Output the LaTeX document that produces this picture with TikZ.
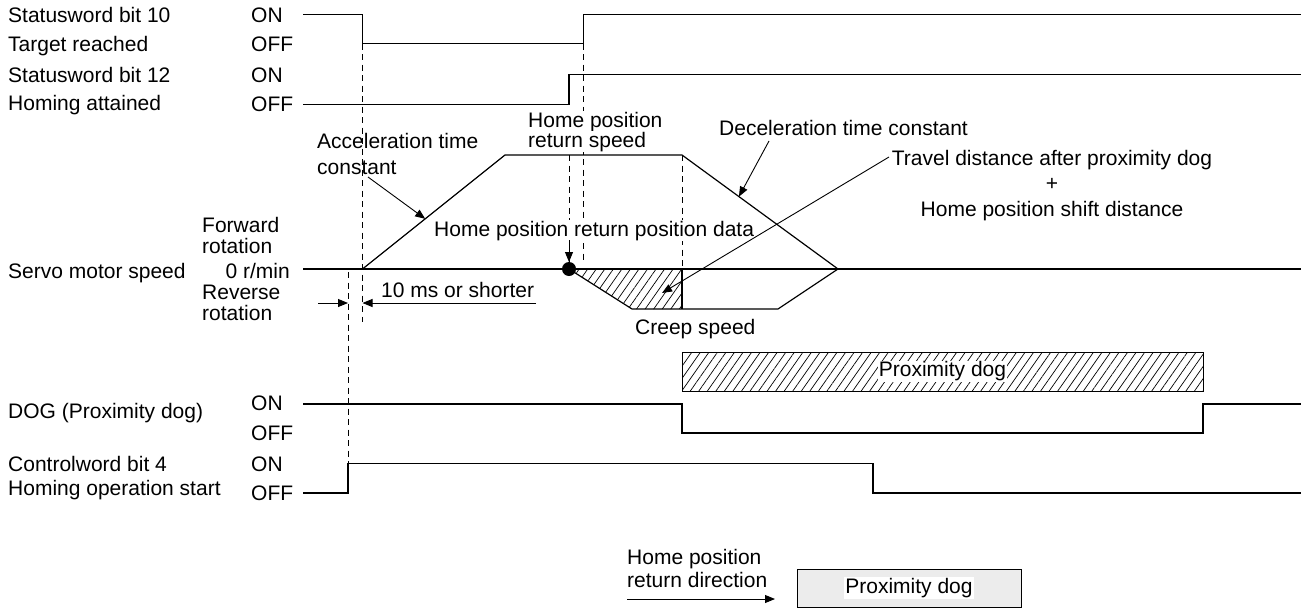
\documentclass[tikz,border=0pt]{standalone}
\usepackage{fontspec}
\setmainfont{Liberation Sans}
\usetikzlibrary{calc, positioning}
\usetikzlibrary{arrows.meta}
\usetikzlibrary{patterns.meta}

\tikzset{
  wave/.style={line width=1.2pt},
  guide/.style={line width=0.9pt, dash pattern=on 6pt off 4.5pt},
  txt/.style={font=\fontsize{21}{25}\selectfont, inner sep=0pt, anchor=base west},
  blank/.style={fill=white, inner sep=1pt},
  ptr/.style={line width=0.9pt, -{Triangle[length=10pt,width=8pt]}},
  hatch/.style={pattern={Lines[angle=55,distance=7pt,line width=0.7pt]}},
}

\begin{document}
\begin{tikzpicture}[x=1pt, y=-1pt]
\useasboundingbox (0,0) rectangle (1301,608);

% signal levels
\def\xa{303}
\def\xb{1301}
\def\ytenon{14.5}
\def\ytenoff{43.5}
\def\ytwon{74.5}
\def\ytwoff{104.5}
\def\yzero{269}
\def\yfast{155}
\def\ycreep{309}
\def\ydogon{404}
\def\ydogoff{433}
\def\ycwon{463.5}
\def\ycwoff{493}
% instants
\def\tstart{348}
\def\tacc{362.5}
\def\thome{569}
\def\treach{583.5}
\def\tdog{682}
\def\tcw{873}
\def\tdogend{1203}

% names on the left
\node[txt] (sw10) at (8,22.5) {Statusword bit 10};
\node[txt] (sw10b) at (8,51) {Target reached};
\node[txt] (sw12) at (8,82.5) {Statusword bit 12};
\node[txt] (sw12b) at (8,110.5) {Homing attained};
\node[txt] (spd) at (8,278) {Servo motor speed};
\node[txt] (dog) at (8,418) {DOG (Proximity dog)};
\node[txt] (cw4) at (8,471) {Controlword bit 4};
\node[txt] (cw4b) at (8,495) {Homing operation start};

\node[txt] (on1) at (251,22.5) {ON};
\node[txt] (off1) at (251,51.5) {OFF};
\node[txt] (on2) at (251,82.5) {ON};
\node[txt] (off2) at (251,111) {OFF};
\node[txt] (fwd) at (202,232) {Forward};
\node[txt] (fwdb) at (202,253) {rotation};
\node[txt, anchor=base east] (rpm) at (290,278) {0 r/min};
\node[txt] (rev) at (202,299) {Reverse};
\node[txt] (revb) at (202,320) {rotation};
\node[txt] (on3) at (251,410.5) {ON};
\node[txt] (off3) at (251,440) {OFF};
\node[txt] (on4) at (251,471) {ON};
\node[txt] (off4) at (251,500.5) {OFF};

% status words
\draw[wave] (\xa,\ytenon) -- (\tacc,\ytenon) -- (\tacc,\ytenoff) -- (\treach,\ytenoff) -- (\treach,\ytenon) -- (\xb,\ytenon);
\draw[wave] (\xa,\ytwoff) -- (\thome,\ytwoff) -- (\thome,\ytwon) -- (\xb,\ytwon);

% speed profile
\coordinate (P0) at (\tacc,\yzero);
\coordinate (P1) at (505,\yfast);
\coordinate (P2) at (\tdog,\yfast);
\coordinate (P3) at (838,\yzero);
\coordinate (P4) at (778,\ycreep);
\coordinate (P5) at (632,\ycreep);
\coordinate (H) at (\thome,\yzero);
\coordinate (D0) at (\tdog,\yzero);
\coordinate (D1) at (\tdog,\ycreep);

\fill[hatch] (H) -- (P5) -- (D1) -- (D0) -- cycle;
\draw[wave] (\xa,\yzero) -- (\xb,\yzero);
\draw[wave] (P0) -- (P1) -- (P2) -- (P3) -- (P4) -- (P5) -- (H);
\draw[wave] (D0) -- (D1);

% guide lines
\draw[guide] (\tacc,\ytenoff) -- (\tacc,322);
\draw[guide] (\tstart,272) -- (\tstart,\ycwon);
\draw[guide] (\treach,\ytenoff) -- (\treach,262);
\draw[guide] (\thome,\yfast) -- (\thome,262);
\draw[guide] (P2) -- (D0);

\fill (H) circle (7);

% DOG and control word
\draw[hatch, line width=1pt] (\tdog,352) rectangle (\tdogend,391);
\node[txt, blank, anchor=center] (dogbox) at (942.5,371.5) {Proximity dog};
\draw[wave] (\xa,\ydogon) -- (\tdog,\ydogon) -- (\tdog,\ydogoff) -- (\tdogend,\ydogoff) -- (\tdogend,\ydogon) -- (\xb,\ydogon);
\draw[wave] (\xa,\ycwoff) -- (\tstart,\ycwoff) -- (\tstart,\ycwon) -- (\tcw,\ycwon) -- (\tcw,\ycwoff) -- (\xb,\ycwoff);

% annotations
\node[txt] (acc) at (317,148) {Acceleration time};
\node[txt] (accb) at (317,174) {constant};
\node[txt, blank] (hrs) at (527,127) {Home position};
\node[txt, blank] (hrsb) at (527,147) {return speed};
\node[txt, blank] (hdata) at (433,236) {Home position return position data};
\node[txt] (dec) at (719,135) {Deceleration time constant};
\node[txt, anchor=base] (trv) at (1052,165) {Travel distance after proximity dog};
\node[txt, anchor=base] (plus) at (1052,190.5) {+};
\node[txt, anchor=base] (shift) at (1052,216) {Home position shift distance};
\node[txt] (ten) at (381,297) {10 ms or shorter};
\node[txt] (crp) at (635,334) {Creep speed};

\coordinate (accfrom) at (368,177);
\coordinate (acctip) at ($(P0)!0.44!(P1)$);
\coordinate (decfrom) at (769,141);
\coordinate (dectip) at ($(P2)!0.365!(P3)$);
\coordinate (trvfrom) at (889,157);
\coordinate (trvtip) at (662,293);
\coordinate (hdfrom) at (\thome,240);
\coordinate (hdtip) at (\thome,262);
\coordinate (m1) at (318,303);
\coordinate (m2) at (\tstart,303);
\coordinate (m3) at (536,303);
\coordinate (m4) at (\tacc,303);

\draw[ptr] (accfrom) -- (acctip);
\draw[ptr] (decfrom) -- (dectip);
\draw[ptr] (trvfrom) -- (trvtip);
\draw[ptr] (hdfrom) -- (hdtip);
\draw[ptr] (m1) -- (m2);
\draw[ptr] (m3) -- (m4);

% direction legend
\node[txt] (dir) at (627,564) {Home position};
\node[txt] (dirb) at (627,587) {return direction};
\coordinate (arr0) at (627,599);
\coordinate (arr1) at (775,599);
\draw[ptr] (arr0) -- (arr1);
\draw[line width=1pt, fill=gray!15] (797,569.5) rectangle (1021,607);
\node[txt, blank, anchor=center] (legdog) at (909,588) {Proximity dog};
\end{tikzpicture}
\end{document}
